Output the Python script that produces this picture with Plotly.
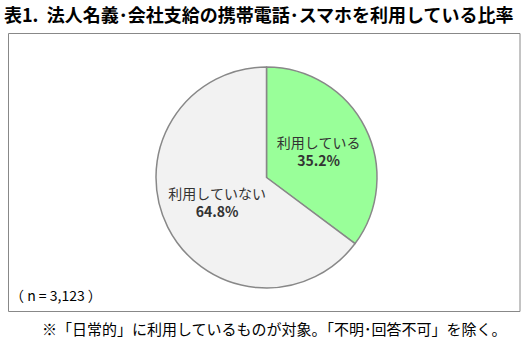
import plotly.graph_objects as go

labels = ["利用している", "利用していない"]
values = [35.2, 64.8]
colors = ["#99FF99", "#F2F2F2"]
title_text = "表1.  法人名義･会社支給の携帯電話･スマホを利用している比率"
n_text = "（ n = 3,123 ）"
note_text = "※「日常的」に利用しているものが対象。「不明･回答不可」を除く。"

W, H = 522, 357
font_family = "Noto Sans CJK JP, sans-serif"

fig = go.Figure(go.Pie(
    labels=labels,
    values=values,
    sort=False,
    direction="clockwise",
    rotation=0,
    marker=dict(colors=colors, line=dict(color="#888888", width=1.5)),
    texttemplate="%{label}<br><b>%{value:.1f}%</b>",
    textposition="inside",
    insidetextorientation="horizontal",
    textfont=dict(family=font_family, size=14, color="#333333"),
    hoverinfo="label+value",
    showlegend=False,
    domain=dict(x=[156 / W, 377 / W], y=[(H - 288) / H, (H - 67) / H]),
))

fig.update_layout(
    width=W, height=H,
    margin=dict(l=0, r=0, t=0, b=0),
    paper_bgcolor="white",
    plot_bgcolor="white",
    font=dict(family=font_family, color="#000000"),
    shapes=[dict(type="rect", xref="paper", yref="paper",
                 x0=8.5 / W, x1=520 / W, y0=(H - 311.5) / H, y1=(H - 33.5) / H,
                 line=dict(color="#888888", width=1), fillcolor="rgba(0,0,0,0)", layer="below")],
    annotations=[
        dict(text="<b>" + title_text + "</b>", xref="paper", yref="paper",
             x=2 / W, y=(H - 14) / H, xanchor="left", yanchor="middle", showarrow=False,
             font=dict(size=18, color="#000000", family=font_family)),
        dict(text=n_text, xref="paper", yref="paper",
             x=8 / W, y=(H - 295) / H, xanchor="left", yanchor="middle", showarrow=False,
             font=dict(size=14, color="#000000", family=font_family)),
        dict(text=note_text, xref="paper", yref="paper",
             x=40 / W, y=(H - 328) / H, xanchor="left", yanchor="middle", showarrow=False,
             font=dict(size=15, color="#000000", family=font_family)),
    ],
)

fig.write_html("out.html")
